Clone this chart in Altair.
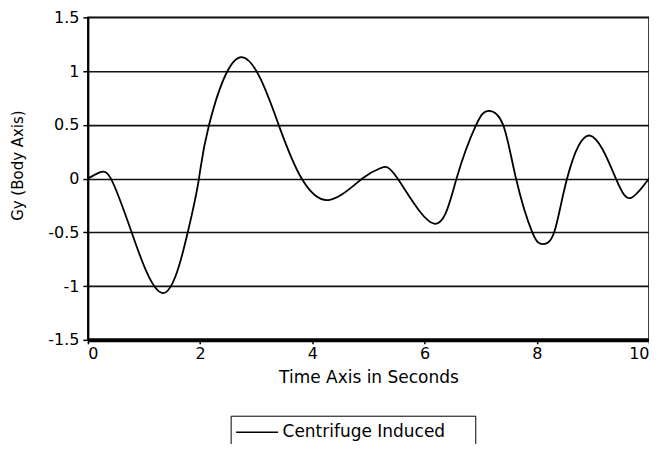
import altair as alt
import pandas as pd

# Time (s) and Gy (body axis)
time_s = [0.0, 0.2, 0.41, 0.78, 1.34, 1.78, 1.98, 2.16, 2.74, 3.4, 3.81, 4.29,
          4.89, 5.23, 5.52, 6.17, 6.57, 6.92, 7.14, 7.4, 7.63, 7.92, 8.11, 8.31,
          8.54, 8.95, 9.41, 9.68, 10.0]
gy = [0.0, 0.055, 0.0, -0.5, -1.065, -0.5, 0.0, 0.5, 1.13, 0.5, 0.0, -0.20,
      0.0, 0.10, 0.0, -0.42, 0.0, 0.5, 0.63, 0.5, 0.0, -0.5, -0.61, -0.5,
      0.0, 0.40, 0.0, -0.18, 0.0]
series = ["Centrifuge Induced"] * len(time_s)

x_ticks = [0, 2, 4, 6, 8, 10]
y_ticks = [-1.5, -1, -0.5, 0, 0.5, 1, 1.5]

df = pd.DataFrame({"t": time_s, "gy": gy, "series": series})

FONT = "DejaVu Sans"

chart = alt.Chart(df).mark_line(
    interpolate="natural", color="black", strokeWidth=1.8
).encode(
    x=alt.X("t:Q", scale=alt.Scale(domain=[0, 10], nice=False),
            axis=alt.Axis(values=x_ticks, title="Time Axis in Seconds", grid=False,
                          domainWidth=4, domainColor="black", tickColor="black",
                          tickSize=4, tickWidth=1.5, labelFontSize=16, titleFontSize=17,
                          labelColor="black", titleColor="black", labelPadding=2,
                          titlePadding=8, labelFont=FONT, titleFont=FONT,
                          titleFontWeight="normal", format="d")),
    y=alt.Y("gy:Q", scale=alt.Scale(domain=[-1.5, 1.5], nice=False),
            axis=alt.Axis(values=y_ticks, title="Gy (Body Axis)", grid=True,
                          gridColor="#111", gridWidth=1.6,
                          domainWidth=2, domainColor="black", tickColor="black",
                          tickSize=5, tickWidth=1.5, labelFontSize=16, titleFontSize=15,
                          labelColor="black", titleColor="black", labelPadding=4,
                          labelFont=FONT, titleFont=FONT,
                          titleFontWeight="normal", titleX=-70, titleY=148,
                          titleBaseline="middle", titleAlign="center", titleAngle=-90,
                          labelExpr="datum.value")),
    color=alt.Color("series:N", scale=alt.Scale(range=["black"]),
                    legend=alt.Legend(title=None, orient="none", legendX=143, legendY=399,
                                      strokeColor="black", padding=5,
                                      symbolType="M-2,0H2", symbolSize=441,
                                      symbolOffset=10, labelOffset=14, labelLimit=400,
                                      symbolStrokeWidth=1.5, symbolStrokeColor="black",
                                      labelFontSize=17, labelFont=FONT, labelColor="black",
                                      labelExpr="datum.label + '\u2800\u2800'")),
).properties(
    width=562, height=323,
    padding={"left": 80, "top": 9, "right": 0, "bottom": 104},
    autosize=alt.AutoSizeParams(type="none"),
).configure_view(stroke="black", strokeWidth=1.5)

chart.save("out.html", embed_options={"renderer": "svg", "actions": False})
